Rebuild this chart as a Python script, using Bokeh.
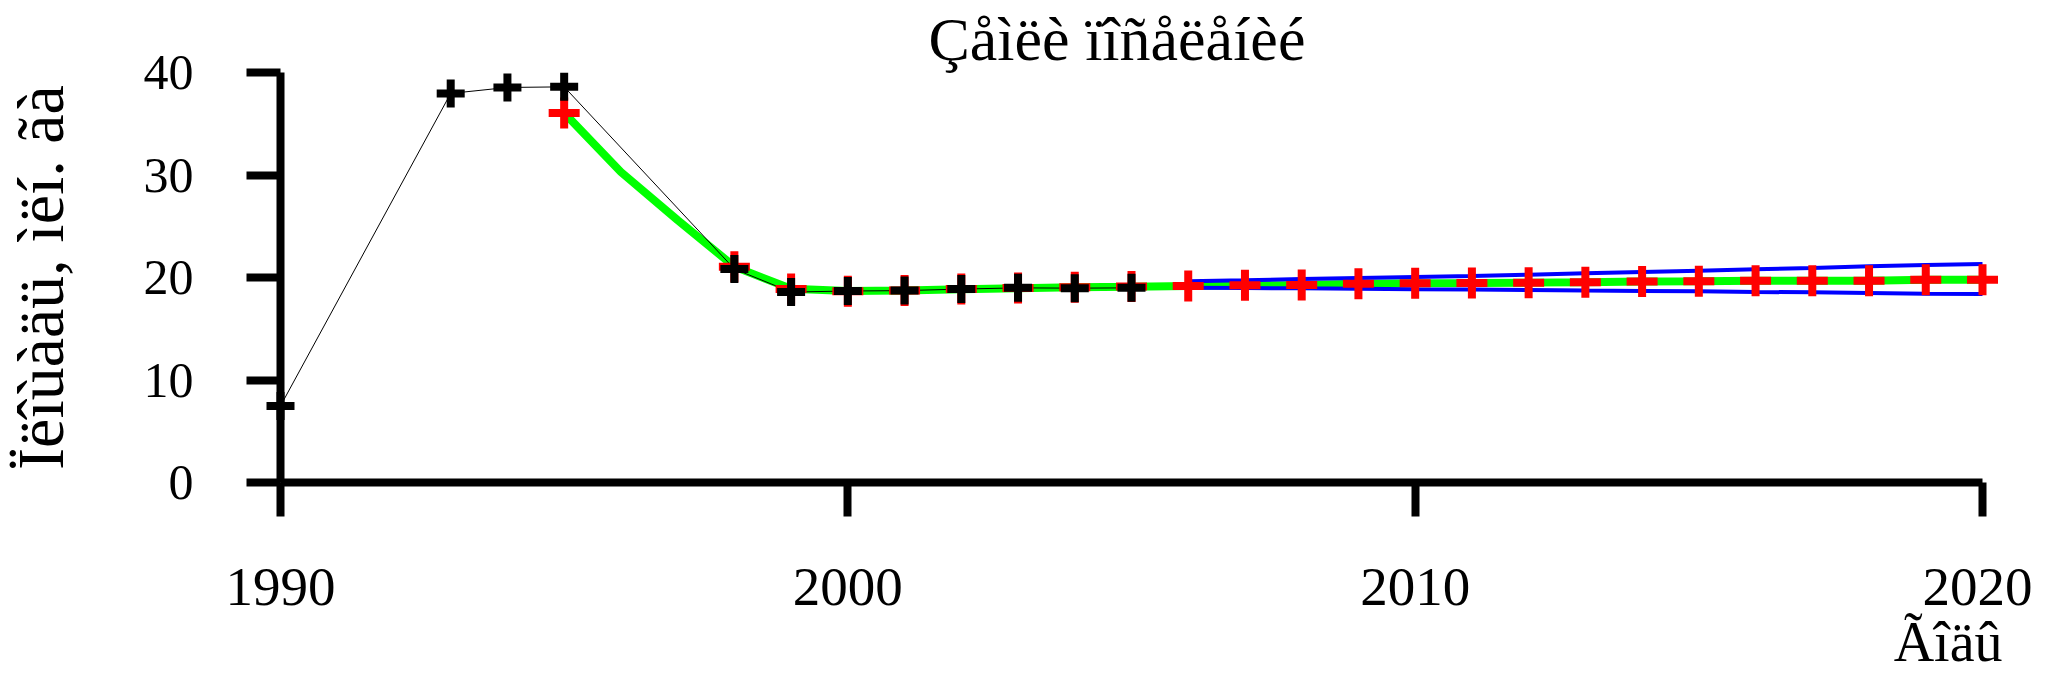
from bokeh.plotting import figure
from bokeh.models import Range1d, FixedTicker
from bokeh.embed import file_html
from bokeh.resources import INLINE

# ---- texts ----
title_text = "Çåìëè ïîñåëåíèé"
y_label = "Ïëîùàäü, ìëí. ãà"
x_label = "Ãîäû"
x_ticks = [1990, 2000, 2010, 2020]
y_ticks = [0, 10, 20, 30, 40]

# ---- observed (black crosses) ----
obs_years = [1990, 1993, 1994, 1995, 1998, 1999, 2000, 2001, 2002, 2003, 2004, 2005]
obs_area = [7.47, 37.96, 38.54, 38.60, 20.83, 18.58, 18.68, 18.72, 18.87, 18.99, 18.96, 18.99]

# ---- model / forecast (red crosses) ----
model_years = [1995, 1998, 1999, 2000, 2001, 2002, 2003, 2004, 2005, 2006, 2007, 2008,
               2009, 2010, 2011, 2012, 2013, 2014, 2015, 2016, 2017, 2018, 2019, 2020]
model_area = [36.06, 21.06, 18.88, 18.65, 18.72, 18.87, 18.97, 19.06, 19.11, 19.17, 19.24, 19.27,
              19.40, 19.43, 19.46, 19.50, 19.53, 19.60, 19.63, 19.69, 19.69, 19.69, 19.79, 19.79]

# ---- fitted curve (green) ----
fit_years = [1995, 1996, 1997, 1998, 1999, 2000, 2001, 2002, 2003, 2004, 2005, 2006, 2007,
             2008, 2009, 2010, 2011, 2012, 2013, 2014, 2015, 2016, 2017, 2018, 2019, 2020]
fit_area = [36.06, 30.3, 25.6, 21.06, 18.9, 18.68, 18.72, 18.85, 18.95, 19.05, 19.10, 19.17, 19.24,
            19.27, 19.40, 19.43, 19.46, 19.50, 19.53, 19.60, 19.63, 19.69, 19.69, 19.69, 19.79, 19.79]

# ---- confidence band (blue) ----
ci_years = [2006, 2007, 2008, 2009, 2010, 2011, 2012, 2013, 2014, 2015, 2016, 2017, 2018, 2019, 2020]
ci_upper = [19.63, 19.73, 19.85, 19.95, 20.05, 20.15, 20.28, 20.41, 20.54, 20.67, 20.80, 20.93, 21.09, 21.22, 21.32]
ci_lower = [19.01, 18.98, 18.94, 18.91, 18.85, 18.82, 18.78, 18.72, 18.69, 18.65, 18.59, 18.55, 18.49, 18.42, 18.39]

FONT = "Liberation Serif"

p = figure(width=2032, height=674,
           x_range=Range1d(x_ticks[0], x_ticks[-1]), y_range=Range1d(y_ticks[0], y_ticks[-1]),
           output_backend="svg", toolbar_location=None,
           min_border_left=275, min_border_right=50, min_border_top=72, min_border_bottom=192,
           title=title_text)
p.background_fill_color = "white"
p.border_fill_color = "white"
p.outline_line_color = None
p.grid.visible = False

p.title.text_font = FONT
p.title.text_font_size = "62px"
p.title.text_font_style = "normal"
p.title.text_color = "black"
p.title.align = "left"
p.title.offset = 648
p.title.standoff = 0

for ax in (p.xaxis[0], p.yaxis[0]):
    ax.axis_line_width = 8
    ax.axis_line_color = "black"
    ax.major_tick_line_width = 8
    ax.major_tick_line_color = "black"
    ax.major_tick_out = 34
    ax.major_tick_in = 0
    ax.minor_tick_line_color = None
    ax.major_label_text_font = FONT
    ax.major_label_text_color = "black"
    ax.axis_label_text_font = FONT
    ax.axis_label_text_font_style = "normal"
    ax.axis_label_text_color = "black"

p.xaxis.ticker = FixedTicker(ticks=x_ticks)
p.yaxis.ticker = FixedTicker(ticks=y_ticks)
p.xaxis.major_label_text_font_size = "55px"
p.xaxis.major_label_standoff = 52
p.yaxis.major_label_text_font_size = "50px"
p.yaxis.major_label_standoff = 53
p.yaxis.axis_label = y_label
p.yaxis.axis_label_text_font_size = "66px"
p.yaxis.axis_label_standoff = 64

p.line(fit_years, fit_area, line_color="#00ff00", line_width=8, level="overlay")
p.line(ci_years, ci_upper, line_color="#0000ff", line_width=4, level="overlay")
p.line(ci_years, ci_lower, line_color="#0000ff", line_width=4, level="overlay")
p.line(obs_years, obs_area, line_color="black", line_width=1, level="overlay")
p.scatter(model_years, model_area, marker="cross", size=31, line_color="#ff0000",
          line_width=8, level="overlay")
p.scatter(obs_years, obs_area, marker="cross", size=28, line_color="black",
          line_width=8, level="overlay")

# x-axis title at the right end, under the last tick label (anchored to the axis end)
p.text(x=[x_ticks[-1]], y=[y_ticks[0]], text=[x_label], x_offset=20, y_offset=159,
       text_align="right", text_baseline="middle", text_font=FONT,
       text_font_size="56px", text_color="black", level="overlay")

open("out.html", "w", encoding="utf-8").write(file_html(p, INLINE))
